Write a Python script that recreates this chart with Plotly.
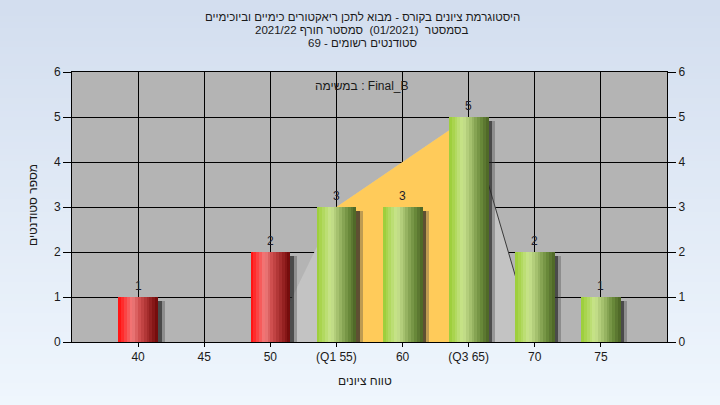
import base64, struct, zlib
import plotly.graph_objects as go

# ---------------- data ----------------
categories = [40, 45, 50, 55, 60, 65, 70, 75]
tick_text = ["40", "45", "50", "(Q1 55)", "60", "(Q3 65)", "70", "75"]
counts = [1, 0, 2, 3, 3, 5, 2, 1]
bar_kind = ["fail", "fail", "fail", "pass", "pass", "pass", "pass", "pass"]

# distribution polygon (light) and inter-quartile region (yellow)
dist_x = [50, 55, 65, 70]
dist_y = [0, 3, 5, 0]
iqr_x = [55, 65]
iqr_y = [3, 5]

title_lines = [
    "היסטוגרמת ציונים בקורס - מבוא לתכן ריאקטורים כימיים וביוכימיים",
    "בסמסטר  (01/2021)  סמסטר חורף 2021/22",
    "סטודנטים רשומים - 69",
]
task_label = "במשימה : Final_B"
x_title = "טווח ציונים"
y_title = "מספר סטודנטים"

FONT = "Liberation Sans, DejaVu Sans, Arial, sans-serif"


def hex2rgb(h):
    h = h.lstrip("#")
    return tuple(int(h[i:i + 2], 16) for i in (0, 2, 4))


def interp(stops, t):
    for (p0, c0), (p1, c1) in zip(stops, stops[1:]):
        if p0 <= t <= p1:
            f = (t - p0) / (p1 - p0) if p1 > p0 else 0
            a, b = hex2rgb(c0), hex2rgb(c1)
            return "rgb(%d,%d,%d)" % tuple(round(a[k] + (b[k] - a[k]) * f) for k in range(3))
    return stops[-1][1]


grad = {
    "fail": [(0, "#ff0a0a"), (0.1, "#ff2a2a"), (0.35, "#f07c7c"), (0.55, "#cc4c4c"),
             (0.8, "#9a2424"), (1.0, "#6e0808")],
    "pass": [(0, "#98cc34"), (0.1, "#a8d44c"), (0.35, "#c9e48e"), (0.55, "#a2be6c"),
             (0.8, "#6c8c3c"), (1.0, "#4a6224")],
}

# ---------------- background gradient image ----------------
def chunk(t, d):
    return struct.pack(">I", len(d)) + t + d + struct.pack(">I", zlib.crc32(t + d) & 0xFFFFFFFF)

top_c, bot_c = hex2rgb("#d3deef"), hex2rgb("#eff6fd")
H = 64
rows = []
for i in range(H):
    f = i / (H - 1)
    c = bytes(round(top_c[k] + (bot_c[k] - top_c[k]) * f) for k in range(3))
    rows.append(b"\x00" + c + c)
png = (b"\x89PNG\r\n\x1a\n" + chunk(b"IHDR", struct.pack(">IIBBBBB", 2, H, 8, 2, 0, 0, 0))
       + chunk(b"IDAT", zlib.compress(b"".join(rows))) + chunk(b"IEND", b""))
bg_uri = "data:image/png;base64," + base64.b64encode(png).decode()

fig = go.Figure()

BW = 3.0
# shadows
fig.add_trace(go.Bar(
    x=categories, y=[max(v - 0.08, 0) for v in counts], width=BW, offset=-BW / 2 + 0.5,
    marker=dict(color="rgba(70,70,70,0.35)", line_width=0), hoverinfo="skip", showlegend=False))
fig.add_trace(go.Bar(
    x=categories, y=[max(v - 0.08, 0) for v in counts], width=BW, offset=-BW / 2 + 0.28,
    marker=dict(color="rgba(30,30,30,0.6)", line_width=0), hoverinfo="skip", showlegend=False))

# cylinder-like bars built from slices
N = 14
sw = BW / N
for i in range(N):
    t = (i + 0.5) / N
    fig.add_trace(go.Bar(
        x=categories, y=counts, width=sw * 1.05, offset=-BW / 2 + i * sw,
        marker=dict(color=[interp(grad[k], t) for k in bar_kind], line_width=0),
        hoverinfo="skip", showlegend=False))

# secondary (right) axis holder
fig.add_trace(go.Scatter(x=[categories[0]], y=[0], yaxis="y2", mode="markers",
                         marker=dict(opacity=0), hoverinfo="skip", showlegend=False))

# area shapes drawn from the data arrays, above the grid but below the bars
def path(xs, ys):
    return "M " + " L ".join("%s,%s" % (x, y) for x, y in zip(xs, ys)) + " Z"

shapes = [
    dict(type="rect", xref="paper", yref="paper", x0=0, x1=1, y0=0, y1=1,
         fillcolor="#b4b4b4", line_width=0, layer="below"),
    dict(type="path", xref="x", yref="y", layer="between",
         path=path([dist_x[0]] + dist_x + [dist_x[-1]], [0] + dist_y + [0]),
         fillcolor="#c3c3c3", line_width=0),
    dict(type="path", xref="x", yref="y", layer="between",
         path=path([iqr_x[0], iqr_x[0], iqr_x[1], iqr_x[1]], [0, iqr_y[0], iqr_y[1], 0]),
         fillcolor="#ffcb5a", line_width=0),
    dict(type="line", xref="x", yref="y", layer="between",
         x0=dist_x[2], y0=dist_y[2], x1=dist_x[3], y1=dist_y[3],
         line=dict(color="#3a3a3a", width=1)),
]

axis_font = dict(family=FONT, size=12, color="#1a1a1a")
fig.update_layout(
    width=720, height=405,
    margin=dict(l=72, r=53, t=72, b=63),
    paper_bgcolor="#e4ecf7",
    plot_bgcolor="rgba(0,0,0,0)",
    barmode="overlay",
    bargap=0,
    xaxis=dict(range=[35, 80], tickvals=categories, ticktext=tick_text,
               showgrid=True, gridcolor="#000000", gridwidth=1,
               showline=True, linecolor="#000000", linewidth=1, mirror=True,
               ticks="outside", ticklen=4, tickcolor="#000000",
               tickfont=axis_font, zeroline=False, fixedrange=True),
    yaxis=dict(range=[0, 6], dtick=1, showgrid=True, gridcolor="#000000", gridwidth=1,
               showline=True, linecolor="#000000", linewidth=1,
               ticks="outside", ticklen=8, tickcolor="#000000",
               tickfont=axis_font, zeroline=False, fixedrange=True),
    yaxis2=dict(range=[0, 6], dtick=1, overlaying="y", side="right", showgrid=False,
                showline=True, linecolor="#000000", linewidth=1,
                ticks="outside", ticklen=8, tickcolor="#000000",
                tickfont=axis_font, zeroline=False, fixedrange=True),
    images=[dict(source=bg_uri, xref="paper", yref="paper",
                 x=-72 / 595, y=1 + 72 / 270, sizex=720 / 595, sizey=405 / 270,
                 xanchor="left", yanchor="top", sizing="stretch", layer="below")],
    shapes=shapes,
)

anns = []
# value labels above bars
for c, v in zip(categories, counts):
    if v > 0:
        anns.append(dict(text=str(v), x=c, y=v, xref="x", yref="y", xanchor="center",
                         yanchor="bottom", yshift=2, showarrow=False,
                         font=dict(family=FONT, size=12, color="#1c1c2c")))
for i, line in enumerate(title_lines):
    py = 17 + 13 * i
    anns.append(dict(text=line, xref="paper", yref="paper", x=0.4874, y=(342 - py) / 270,
                     xanchor="center", yanchor="middle", showarrow=False,
                     font=dict(family=FONT, size=11.5, color="#1a1a1a")))
anns.append(dict(text=task_label, xref="paper", yref="paper", x=(362 - 72) / 595,
                 y=(342 - 86) / 270, xanchor="center", yanchor="middle", showarrow=False,
                 font=dict(family=FONT, size=12, color="#1a1a1a")))
anns.append(dict(text=x_title, xref="paper", yref="paper", x=(365 - 72) / 595,
                 y=(342 - 381) / 270, xanchor="center", yanchor="middle", showarrow=False,
                 font=dict(family=FONT, size=12, color="#1a1a1a")))
anns.append(dict(text=y_title, xref="paper", yref="paper", x=(33 - 72) / 595,
                 y=(342 - 205) / 270, xanchor="center", yanchor="middle", showarrow=False,
                 textangle=-90, font=dict(family=FONT, size=12, color="#1a1a1a")))
fig.update_layout(annotations=anns)

fig.write_html("out.html", config={"displayModeBar": False},
               post_script="document.body.style.margin='0';document.body.style.overflow='hidden';")
